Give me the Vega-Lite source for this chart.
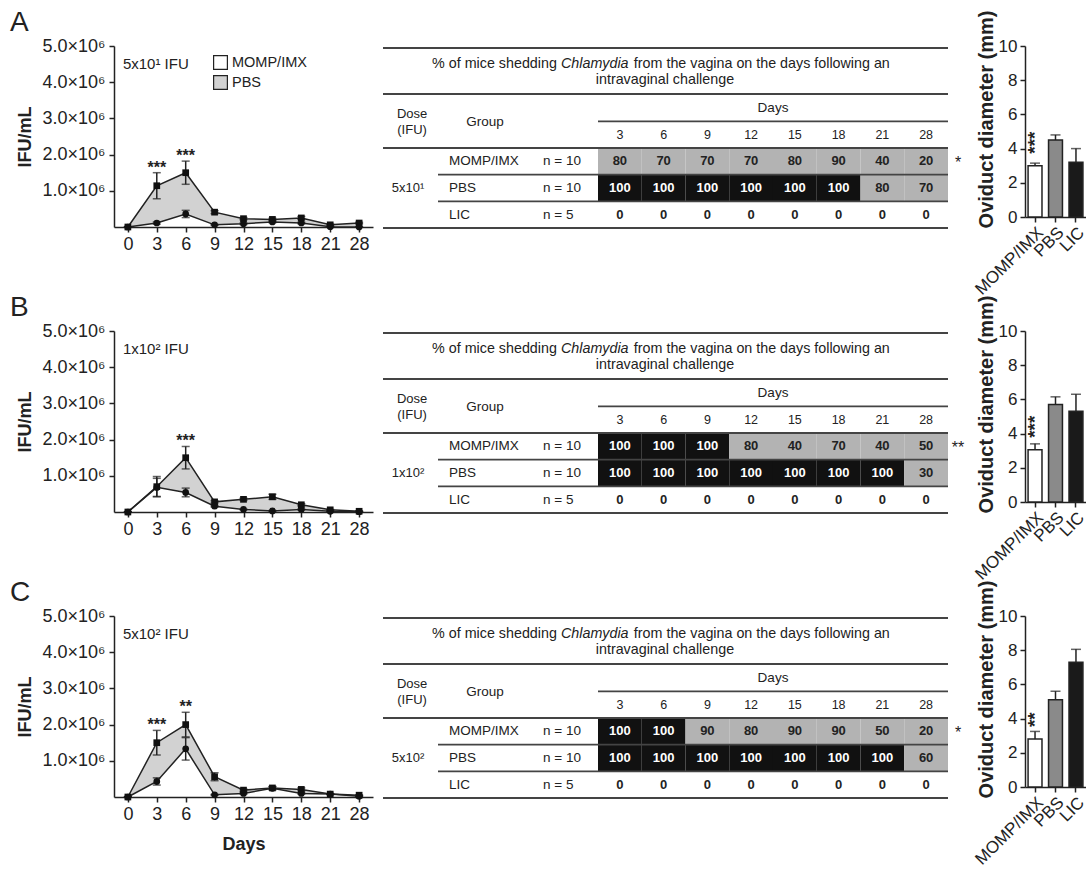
{
"$schema":"https://vega.github.io/schema/vega-lite/v6.json",
"padding":{"left":10,"top":9,"right":0,"bottom":0},
"config":{"font":"Liberation Sans","view":{"stroke":null},"axis":{"domainColor":"#222","tickColor":"#222","labelColor":"#222","titleColor":"#222","grid":false,"domainWidth":1.5,"tickWidth":1.5},"text":{"color":"#222"},"title":{"color":"#222"}},
"datasets":{
"lines":[
{"panel":"A","series":"PBS","day":0,"v":0,"err":0},{"panel":"A","series":"PBS","day":3,"v":1140000,"err":360000},{"panel":"A","series":"PBS","day":6,"v":1500000,"err":320000},{"panel":"A","series":"PBS","day":9,"v":410000,"err":40000},{"panel":"A","series":"PBS","day":12,"v":230000,"err":30000},{"panel":"A","series":"PBS","day":15,"v":210000,"err":30000},{"panel":"A","series":"PBS","day":18,"v":250000,"err":40000},{"panel":"A","series":"PBS","day":21,"v":60000,"err":20000},{"panel":"A","series":"PBS","day":28,"v":110000,"err":20000},
{"panel":"A","series":"MOMP/IMX","day":0,"v":0,"err":0},{"panel":"A","series":"MOMP/IMX","day":3,"v":110000,"err":30000},{"panel":"A","series":"MOMP/IMX","day":6,"v":360000,"err":100000},{"panel":"A","series":"MOMP/IMX","day":9,"v":60000,"err":10000},{"panel":"A","series":"MOMP/IMX","day":12,"v":90000,"err":20000},{"panel":"A","series":"MOMP/IMX","day":15,"v":140000,"err":20000},{"panel":"A","series":"MOMP/IMX","day":18,"v":110000,"err":20000},{"panel":"A","series":"MOMP/IMX","day":21,"v":10000,"err":0},{"panel":"A","series":"MOMP/IMX","day":28,"v":0,"err":0},
{"panel":"B","series":"PBS","day":0,"v":0,"err":0},{"panel":"B","series":"PBS","day":3,"v":700000,"err":280000},{"panel":"B","series":"PBS","day":6,"v":1500000,"err":310000},{"panel":"B","series":"PBS","day":9,"v":280000,"err":30000},{"panel":"B","series":"PBS","day":12,"v":350000,"err":30000},{"panel":"B","series":"PBS","day":15,"v":420000,"err":70000},{"panel":"B","series":"PBS","day":18,"v":200000,"err":30000},{"panel":"B","series":"PBS","day":21,"v":60000,"err":10000},{"panel":"B","series":"PBS","day":28,"v":20000,"err":0},
{"panel":"B","series":"MOMP/IMX","day":0,"v":0,"err":0},{"panel":"B","series":"MOMP/IMX","day":3,"v":680000,"err":250000},{"panel":"B","series":"MOMP/IMX","day":6,"v":540000,"err":120000},{"panel":"B","series":"MOMP/IMX","day":9,"v":160000,"err":20000},{"panel":"B","series":"MOMP/IMX","day":12,"v":70000,"err":10000},{"panel":"B","series":"MOMP/IMX","day":15,"v":30000,"err":10000},{"panel":"B","series":"MOMP/IMX","day":18,"v":70000,"err":10000},{"panel":"B","series":"MOMP/IMX","day":21,"v":20000,"err":0},{"panel":"B","series":"MOMP/IMX","day":28,"v":10000,"err":0},
{"panel":"C","series":"PBS","day":0,"v":0,"err":0},{"panel":"C","series":"PBS","day":3,"v":1500000,"err":340000},{"panel":"C","series":"PBS","day":6,"v":2000000,"err":340000},{"panel":"C","series":"PBS","day":9,"v":560000,"err":110000},{"panel":"C","series":"PBS","day":12,"v":190000,"err":30000},{"panel":"C","series":"PBS","day":15,"v":250000,"err":40000},{"panel":"C","series":"PBS","day":18,"v":210000,"err":40000},{"panel":"C","series":"PBS","day":21,"v":80000,"err":10000},{"panel":"C","series":"PBS","day":28,"v":50000,"err":10000},
{"panel":"C","series":"MOMP/IMX","day":0,"v":0,"err":0},{"panel":"C","series":"MOMP/IMX","day":3,"v":430000,"err":100000},{"panel":"C","series":"MOMP/IMX","day":6,"v":1330000,"err":310000},{"panel":"C","series":"MOMP/IMX","day":9,"v":60000,"err":10000},{"panel":"C","series":"MOMP/IMX","day":12,"v":100000,"err":20000},{"panel":"C","series":"MOMP/IMX","day":15,"v":240000,"err":40000},{"panel":"C","series":"MOMP/IMX","day":18,"v":100000,"err":20000},{"panel":"C","series":"MOMP/IMX","day":21,"v":80000,"err":10000},{"panel":"C","series":"MOMP/IMX","day":28,"v":20000,"err":10000}
],
"sigLine":[{"panel":"A","day":3,"sig":"***","top":1500000},{"panel":"A","day":6,"sig":"***","top":1820000},{"panel":"B","day":6,"sig":"***","top":1810000},{"panel":"C","day":3,"sig":"***","top":1840000},{"panel":"C","day":6,"sig":"**","top":2340000}],
"panels":[{"panel":"A","dose":"5x10¹","sig":"*"},{"panel":"B","dose":"1x10²","sig":"**"},{"panel":"C","dose":"5x10²","sig":"*"}],
"bars":[
{"panel":"A","group":"MOMP/IMX","v":3.0,"err":0.15,"sig":"***"},{"panel":"A","group":"PBS","v":4.5,"err":0.3,"sig":""},{"panel":"A","group":"LIC","v":3.2,"err":0.8,"sig":""},
{"panel":"B","group":"MOMP/IMX","v":3.05,"err":0.35,"sig":"***"},{"panel":"B","group":"PBS","v":5.7,"err":0.45,"sig":""},{"panel":"B","group":"LIC","v":5.3,"err":1.0,"sig":""},
{"panel":"C","group":"MOMP/IMX","v":2.8,"err":0.45,"sig":"**"},{"panel":"C","group":"PBS","v":5.1,"err":0.5,"sig":""},{"panel":"C","group":"LIC","v":7.3,"err":0.75,"sig":""}
],
"cells":[
{"panel":"A","group":"MOMP/IMX","day":3,"pct":80},{"panel":"A","group":"MOMP/IMX","day":6,"pct":70},{"panel":"A","group":"MOMP/IMX","day":9,"pct":70},{"panel":"A","group":"MOMP/IMX","day":12,"pct":70},{"panel":"A","group":"MOMP/IMX","day":15,"pct":80},{"panel":"A","group":"MOMP/IMX","day":18,"pct":90},{"panel":"A","group":"MOMP/IMX","day":21,"pct":40},{"panel":"A","group":"MOMP/IMX","day":28,"pct":20},
{"panel":"A","group":"PBS","day":3,"pct":100},{"panel":"A","group":"PBS","day":6,"pct":100},{"panel":"A","group":"PBS","day":9,"pct":100},{"panel":"A","group":"PBS","day":12,"pct":100},{"panel":"A","group":"PBS","day":15,"pct":100},{"panel":"A","group":"PBS","day":18,"pct":100},{"panel":"A","group":"PBS","day":21,"pct":80},{"panel":"A","group":"PBS","day":28,"pct":70},
{"panel":"A","group":"LIC","day":3,"pct":0},{"panel":"A","group":"LIC","day":6,"pct":0},{"panel":"A","group":"LIC","day":9,"pct":0},{"panel":"A","group":"LIC","day":12,"pct":0},{"panel":"A","group":"LIC","day":15,"pct":0},{"panel":"A","group":"LIC","day":18,"pct":0},{"panel":"A","group":"LIC","day":21,"pct":0},{"panel":"A","group":"LIC","day":28,"pct":0},
{"panel":"B","group":"MOMP/IMX","day":3,"pct":100},{"panel":"B","group":"MOMP/IMX","day":6,"pct":100},{"panel":"B","group":"MOMP/IMX","day":9,"pct":100},{"panel":"B","group":"MOMP/IMX","day":12,"pct":80},{"panel":"B","group":"MOMP/IMX","day":15,"pct":40},{"panel":"B","group":"MOMP/IMX","day":18,"pct":70},{"panel":"B","group":"MOMP/IMX","day":21,"pct":40},{"panel":"B","group":"MOMP/IMX","day":28,"pct":50},
{"panel":"B","group":"PBS","day":3,"pct":100},{"panel":"B","group":"PBS","day":6,"pct":100},{"panel":"B","group":"PBS","day":9,"pct":100},{"panel":"B","group":"PBS","day":12,"pct":100},{"panel":"B","group":"PBS","day":15,"pct":100},{"panel":"B","group":"PBS","day":18,"pct":100},{"panel":"B","group":"PBS","day":21,"pct":100},{"panel":"B","group":"PBS","day":28,"pct":30},
{"panel":"B","group":"LIC","day":3,"pct":0},{"panel":"B","group":"LIC","day":6,"pct":0},{"panel":"B","group":"LIC","day":9,"pct":0},{"panel":"B","group":"LIC","day":12,"pct":0},{"panel":"B","group":"LIC","day":15,"pct":0},{"panel":"B","group":"LIC","day":18,"pct":0},{"panel":"B","group":"LIC","day":21,"pct":0},{"panel":"B","group":"LIC","day":28,"pct":0},
{"panel":"C","group":"MOMP/IMX","day":3,"pct":100},{"panel":"C","group":"MOMP/IMX","day":6,"pct":100},{"panel":"C","group":"MOMP/IMX","day":9,"pct":90},{"panel":"C","group":"MOMP/IMX","day":12,"pct":80},{"panel":"C","group":"MOMP/IMX","day":15,"pct":90},{"panel":"C","group":"MOMP/IMX","day":18,"pct":90},{"panel":"C","group":"MOMP/IMX","day":21,"pct":50},{"panel":"C","group":"MOMP/IMX","day":28,"pct":20},
{"panel":"C","group":"PBS","day":3,"pct":100},{"panel":"C","group":"PBS","day":6,"pct":100},{"panel":"C","group":"PBS","day":9,"pct":100},{"panel":"C","group":"PBS","day":12,"pct":100},{"panel":"C","group":"PBS","day":15,"pct":100},{"panel":"C","group":"PBS","day":18,"pct":100},{"panel":"C","group":"PBS","day":21,"pct":100},{"panel":"C","group":"PBS","day":28,"pct":60},
{"panel":"C","group":"LIC","day":3,"pct":0},{"panel":"C","group":"LIC","day":6,"pct":0},{"panel":"C","group":"LIC","day":9,"pct":0},{"panel":"C","group":"LIC","day":12,"pct":0},{"panel":"C","group":"LIC","day":15,"pct":0},{"panel":"C","group":"LIC","day":18,"pct":0},{"panel":"C","group":"LIC","day":21,"pct":0},{"panel":"C","group":"LIC","day":28,"pct":0}
],
"dayCols":[{"day":3,"c0":0,"c1":1,"cm":0.5},{"day":6,"c0":1,"c1":2,"cm":1.5},{"day":9,"c0":2,"c1":3,"cm":2.5},{"day":12,"c0":3,"c1":4,"cm":3.5},{"day":15,"c0":4,"c1":5,"cm":4.5},{"day":18,"c0":5,"c1":6,"cm":5.5},{"day":21,"c0":6,"c1":7,"cm":6.5},{"day":28,"c0":7,"c1":8,"cm":7.5}],
"groupRows":[{"group":"MOMP/IMX","n":"n = 10","r0":3.75,"r1":4.75,"rm":4.25},{"group":"PBS","n":"n = 10","r0":4.75,"r1":5.75,"rm":5.25},{"group":"LIC","n":"n = 5","r0":5.75,"r1":6.75,"rm":6.25}],
"tRules":[{"y":0,"x1":-4.914,"x2":8},{"y":1.725,"x1":-4.914,"x2":8},{"y":2.75,"x1":0,"x2":8},{"y":3.75,"x1":-4.914,"x2":8},{"y":4.75,"x1":-3.657,"x2":8},{"y":5.75,"x1":-3.657,"x2":8},{"y":6.75,"x1":-4.914,"x2":8}]
},
"spacing":-4,
"vconcat":[
{"spacing":2,"hconcat":[
 {"width":259,"height":181,
  "title":{"text":"A","anchor":"start","frame":"group","dx":-104,"fontSize":28,"fontWeight":"normal","offset":0},
  "layer":[
   {"data":{"name":"lines"},"transform":[{"filter":"datum.panel==='A'"},{"pivot":"series","value":"v","groupby":["day"]}],
    "mark":{"type":"area","color":"#d2d2d2","opacity":1},
    "encoding":{"x":{"field":"day","type":"ordinal","scale":{"type":"point","domain":[0,3,6,9,12,15,18,21,28],"padding":0.48},"axis":{"title":null,"labelFontSize":18,"labelAngle":0,"tickSize":5,"labelPadding":3}},
     "y":{"field":"PBS","type":"quantitative","scale":{"domain":[0,5000000]},"title":"IFU/mL","axis":{"values":[1000000,2000000,3000000,4000000,5000000],"labelExpr":"format(datum.value/1000000,'.1f')+'×10⁶'","labelFontSize":18,"titleFontSize":18,"titleFontWeight":"bold","tickSize":5,"labelPadding":4,"titlePadding":8}},
     "y2":{"field":"MOMP/IMX"}}},
   {"data":{"name":"lines"},"transform":[{"filter":"datum.panel==='A'"}],"mark":{"type":"line","color":"#222","strokeWidth":1.5},
    "encoding":{"x":{"field":"day","type":"ordinal"},"y":{"field":"v","type":"quantitative","title":"IFU/mL"},"detail":{"field":"series"}}},
   {"data":{"name":"lines"},"transform":[{"filter":"datum.panel==='A'"}],"mark":{"type":"errorbar","color":"#222","thickness":1.5,"ticks":{"size":8,"thickness":1.5}},
    "encoding":{"x":{"field":"day","type":"ordinal"},"y":{"field":"v","type":"quantitative","title":"IFU/mL"},"yError":{"field":"err"}}},
   {"data":{"name":"lines"},"transform":[{"filter":"datum.panel==='A'"}],"mark":{"type":"point","filled":true,"color":"#111","size":45,"opacity":1},
    "encoding":{"x":{"field":"day","type":"ordinal"},"y":{"field":"v","type":"quantitative","title":"IFU/mL"},"shape":{"field":"series","type":"nominal","scale":{"domain":["MOMP/IMX","PBS"],"range":["circle","square"]},"legend":null}}},
   {"data":{"name":"sigLine"},"transform":[{"filter":"datum.panel==='A'"}],"mark":{"type":"text","fontSize":16,"fontWeight":"bold","baseline":"alphabetic"},
    "encoding":{"x":{"field":"day","type":"ordinal"},"y":{"field":"top","type":"quantitative","title":"IFU/mL"},"text":{"field":"sig"}}},
   {"data":{"name":"panels"},"transform":[{"filter":"datum.panel==='A'"}],"mark":{"type":"text","align":"left","baseline":"middle","fontSize":15,"dx":-5,"text":{"expr":"datum.dose + ' IFU'"}},
    "encoding":{"x":{"datum":0,"type":"ordinal"},"y":{"datum":4500000,"type":"quantitative","title":"IFU/mL"}}},
   {"data":{"name":"lines"},"transform":[{"filter":"datum.panel==='A'"}],"mark":{"type":"square","filled":true,"opacity":0},
    "encoding":{"x":{"field":"day","type":"ordinal"},"y":{"field":"v","type":"quantitative","title":"IFU/mL"},
     "fill":{"field":"series","type":"nominal","scale":{"domain":["MOMP/IMX","PBS"],"range":["white","#d2d2d2"]},"legend":{"title":null,"orient":"none","legendX":99,"legendY":9,"symbolType":"square","symbolSize":190,"symbolStrokeColor":"#222","symbolStrokeWidth":1.2,"symbolOpacity":1,"labelFontSize":14.5,"labelColor":"#222","rowPadding":1,"padding":0,"labelOffset":4}}}}
  ]},
 {"width":594,"height":180,
  "data":{"name":"panels"},"transform":[{"filter":"datum.panel==='A'"}],
  "layer":[
   {"data":{"name":"cells"},"transform":[{"filter":"datum.panel==='A'"},{"lookup":"day","from":{"data":{"name":"dayCols"},"key":"day","fields":["c0","c1","cm"]}},{"lookup":"group","from":{"data":{"name":"groupRows"},"key":"group","fields":["r0","r1","rm"]}}],
    "mark":{"type":"rect"},
    "encoding":{"x":{"field":"c0","type":"quantitative","scale":{"domain":[-5.097,8.48],"nice":false,"zero":false},"axis":null},"x2":{"field":"c1"},
     "y":{"field":"r0","type":"quantitative","scale":{"domain":[-0.075,6.675],"reverse":true,"nice":false,"zero":false},"axis":null},"y2":{"field":"r1"},
     "fill":{"field":"pct","type":"quantitative","scale":{"type":"threshold","domain":[1,100],"range":["white","#b3b3b3","#111111"]},"legend":null}}},
   {"data":{"name":"cells"},"transform":[{"filter":"datum.panel==='A'"},{"lookup":"day","from":{"data":{"name":"dayCols"},"key":"day","fields":["c0","c1","cm"]}},{"lookup":"group","from":{"data":{"name":"groupRows"},"key":"group","fields":["r0","r1","rm"]}}],
    "mark":{"type":"text","fontWeight":"bold","fontSize":13},
    "encoding":{"x":{"field":"cm","type":"quantitative","axis":null},"y":{"field":"rm","type":"quantitative","axis":null},"text":{"field":"pct","type":"quantitative"},
     "color":{"field":"pct","type":"quantitative","scale":{"type":"threshold","domain":[100],"range":["#222222","#ffffff"]},"legend":null}}},
   {"data":{"name":"tRules"},"mark":{"type":"rule","color":"#444","strokeWidth":1.8},
    "encoding":{"x":{"field":"x1","type":"quantitative","axis":null},"x2":{"field":"x2"},"y":{"field":"y","type":"quantitative","axis":null}}},
   {"data":{"name":"groupRows"},"mark":{"type":"text","align":"left","fontSize":13.5},
    "encoding":{"x":{"datum":-3.406,"type":"quantitative","axis":null},"y":{"field":"rm","type":"quantitative","axis":null},"text":{"field":"group"}}},
   {"data":{"name":"groupRows"},"mark":{"type":"text","align":"left","fontSize":13.5},
    "encoding":{"x":{"datum":-1.257,"type":"quantitative","axis":null},"y":{"field":"rm","type":"quantitative","axis":null},"text":{"field":"n"}}},
   {"data":{"name":"dayCols"},"mark":{"type":"text","fontSize":12.5},
    "encoding":{"x":{"field":"cm","type":"quantitative","axis":null},"y":{"datum":3.28,"type":"quantitative","axis":null},"text":{"field":"day"}}},
   {"mark":{"type":"text","align":"right","fontSize":14.3,"text":"% of mice shedding"},"encoding":{"x":{"datum":-0.94,"type":"quantitative","axis":null},"y":{"datum":0.61,"type":"quantitative","axis":null}}},
   {"mark":{"type":"text","align":"left","fontSize":14.3,"fontStyle":"italic","text":"Chlamydia"},"encoding":{"x":{"datum":-0.846,"type":"quantitative","axis":null},"y":{"datum":0.61,"type":"quantitative","axis":null}}},
   {"mark":{"type":"text","align":"left","fontSize":14.3,"text":"from the vagina on the days following an"},"encoding":{"x":{"datum":0.82,"type":"quantitative","axis":null},"y":{"datum":0.61,"type":"quantitative","axis":null}}},
   {"mark":{"type":"text","fontSize":14.3,"text":"intravaginal challenge"},"encoding":{"x":{"datum":1.53,"type":"quantitative","axis":null},"y":{"datum":1.21,"type":"quantitative","axis":null}}},
   {"mark":{"type":"text","fontSize":13.5,"text":"Days"},"encoding":{"x":{"datum":4,"type":"quantitative","axis":null},"y":{"datum":2.25,"type":"quantitative","axis":null}}},
   {"mark":{"type":"text","fontSize":13,"text":"Dose"},"encoding":{"x":{"datum":-4.25,"type":"quantitative","axis":null},"y":{"datum":2.46,"type":"quantitative","axis":null}}},
   {"mark":{"type":"text","fontSize":13,"text":"(IFU)"},"encoding":{"x":{"datum":-4.25,"type":"quantitative","axis":null},"y":{"datum":3.07,"type":"quantitative","axis":null}}},
   {"mark":{"type":"text","fontSize":13.5,"text":"Group"},"encoding":{"x":{"datum":-2.58,"type":"quantitative","axis":null},"y":{"datum":2.78,"type":"quantitative","axis":null}}},
   {"mark":{"type":"text","fontSize":13},"encoding":{"x":{"datum":-4.34,"type":"quantitative","axis":null},"y":{"datum":5.25,"type":"quantitative","axis":null},"text":{"field":"dose"}}},
   {"mark":{"type":"text","fontSize":16,"baseline":"middle"},"encoding":{"x":{"datum":8.23,"type":"quantitative","axis":null},"y":{"datum":4.3,"type":"quantitative","axis":null},"text":{"field":"sig"}}}
  ]},
 {"width":61,"height":171,
  "data":{"name":"bars"},"transform":[{"filter":"datum.panel==='A'"}],
  "encoding":{"x":{"field":"group","type":"nominal","scale":{"domain":["MOMP/IMX","PBS","LIC"],"paddingInner":0.32,"paddingOuter":0.15},"axis":{"title":null,"labelAngle":-45,"labelFontSize":17,"tickSize":5,"labelPadding":2}},
   "y":{"field":"v","type":"quantitative","scale":{"domain":[0,10]},"title":"Oviduct diameter (mm)","axis":{"values":[0,2,4,6,8,10],"labelFontSize":17,"titleFontSize":20,"titleFontWeight":"bold","titlePadding":2,"titleY":73,"tickSize":5,"labelPadding":3}}},
  "layer":[
   {"mark":{"type":"errorbar","color":"#222","thickness":1.5,"ticks":{"size":10,"thickness":1.5}},"encoding":{"yError":{"field":"err"}}},
   {"mark":{"type":"bar","stroke":"#222","strokeWidth":1.5},"encoding":{"fill":{"field":"group","type":"nominal","scale":{"domain":["MOMP/IMX","PBS","LIC"],"range":["#ffffff","#8a8a8a","#1a1a1a"]},"legend":null}}},
   {"mark":{"type":"text","angle":270,"align":"left","baseline":"middle","dx":12,"fontSize":19,"fontWeight":"bold"},"encoding":{"text":{"field":"sig"}}}
  ]}
]},
{"spacing":2,"hconcat":[
 {"width":259,"height":181,
  "title":{"text":"B","anchor":"start","frame":"group","dx":-104,"fontSize":28,"fontWeight":"normal","offset":0},
  "layer":[
   {"data":{"name":"lines"},"transform":[{"filter":"datum.panel==='B'"},{"pivot":"series","value":"v","groupby":["day"]}],
    "mark":{"type":"area","color":"#d2d2d2","opacity":1},
    "encoding":{"x":{"field":"day","type":"ordinal","scale":{"type":"point","domain":[0,3,6,9,12,15,18,21,28],"padding":0.48},"axis":{"title":null,"labelFontSize":18,"labelAngle":0,"tickSize":5,"labelPadding":3}},
     "y":{"field":"PBS","type":"quantitative","scale":{"domain":[0,5000000]},"title":"IFU/mL","axis":{"values":[1000000,2000000,3000000,4000000,5000000],"labelExpr":"format(datum.value/1000000,'.1f')+'×10⁶'","labelFontSize":18,"titleFontSize":18,"titleFontWeight":"bold","tickSize":5,"labelPadding":4,"titlePadding":8}},
     "y2":{"field":"MOMP/IMX"}}},
   {"data":{"name":"lines"},"transform":[{"filter":"datum.panel==='B'"}],"mark":{"type":"line","color":"#222","strokeWidth":1.5},
    "encoding":{"x":{"field":"day","type":"ordinal"},"y":{"field":"v","type":"quantitative","title":"IFU/mL"},"detail":{"field":"series"}}},
   {"data":{"name":"lines"},"transform":[{"filter":"datum.panel==='B'"}],"mark":{"type":"errorbar","color":"#222","thickness":1.5,"ticks":{"size":8,"thickness":1.5}},
    "encoding":{"x":{"field":"day","type":"ordinal"},"y":{"field":"v","type":"quantitative","title":"IFU/mL"},"yError":{"field":"err"}}},
   {"data":{"name":"lines"},"transform":[{"filter":"datum.panel==='B'"}],"mark":{"type":"point","filled":true,"color":"#111","size":45,"opacity":1},
    "encoding":{"x":{"field":"day","type":"ordinal"},"y":{"field":"v","type":"quantitative","title":"IFU/mL"},"shape":{"field":"series","type":"nominal","scale":{"domain":["MOMP/IMX","PBS"],"range":["circle","circle"]},"legend":null}}},
   {"data":{"name":"sigLine"},"transform":[{"filter":"datum.panel==='B'"}],"mark":{"type":"text","fontSize":16,"fontWeight":"bold","baseline":"alphabetic"},
    "encoding":{"x":{"field":"day","type":"ordinal"},"y":{"field":"top","type":"quantitative","title":"IFU/mL"},"text":{"field":"sig"}}},
   {"data":{"name":"panels"},"transform":[{"filter":"datum.panel==='B'"}],"mark":{"type":"text","align":"left","baseline":"middle","fontSize":15,"dx":-5,"text":{"expr":"datum.dose + ' IFU'"}},
    "encoding":{"x":{"datum":0,"type":"ordinal"},"y":{"datum":4500000,"type":"quantitative","title":"IFU/mL"}}}
  ]},
 {"width":594,"height":180,
  "data":{"name":"panels"},"transform":[{"filter":"datum.panel==='B'"}],
  "layer":[
   {"data":{"name":"cells"},"transform":[{"filter":"datum.panel==='B'"},{"lookup":"day","from":{"data":{"name":"dayCols"},"key":"day","fields":["c0","c1","cm"]}},{"lookup":"group","from":{"data":{"name":"groupRows"},"key":"group","fields":["r0","r1","rm"]}}],
    "mark":{"type":"rect"},
    "encoding":{"x":{"field":"c0","type":"quantitative","scale":{"domain":[-5.097,8.48],"nice":false,"zero":false},"axis":null},"x2":{"field":"c1"},
     "y":{"field":"r0","type":"quantitative","scale":{"domain":[-0.075,6.675],"reverse":true,"nice":false,"zero":false},"axis":null},"y2":{"field":"r1"},
     "fill":{"field":"pct","type":"quantitative","scale":{"type":"threshold","domain":[1,100],"range":["white","#b3b3b3","#111111"]},"legend":null}}},
   {"data":{"name":"cells"},"transform":[{"filter":"datum.panel==='B'"},{"lookup":"day","from":{"data":{"name":"dayCols"},"key":"day","fields":["c0","c1","cm"]}},{"lookup":"group","from":{"data":{"name":"groupRows"},"key":"group","fields":["r0","r1","rm"]}}],
    "mark":{"type":"text","fontWeight":"bold","fontSize":13},
    "encoding":{"x":{"field":"cm","type":"quantitative","axis":null},"y":{"field":"rm","type":"quantitative","axis":null},"text":{"field":"pct","type":"quantitative"},
     "color":{"field":"pct","type":"quantitative","scale":{"type":"threshold","domain":[100],"range":["#222222","#ffffff"]},"legend":null}}},
   {"data":{"name":"tRules"},"mark":{"type":"rule","color":"#444","strokeWidth":1.8},
    "encoding":{"x":{"field":"x1","type":"quantitative","axis":null},"x2":{"field":"x2"},"y":{"field":"y","type":"quantitative","axis":null}}},
   {"data":{"name":"groupRows"},"mark":{"type":"text","align":"left","fontSize":13.5},
    "encoding":{"x":{"datum":-3.406,"type":"quantitative","axis":null},"y":{"field":"rm","type":"quantitative","axis":null},"text":{"field":"group"}}},
   {"data":{"name":"groupRows"},"mark":{"type":"text","align":"left","fontSize":13.5},
    "encoding":{"x":{"datum":-1.257,"type":"quantitative","axis":null},"y":{"field":"rm","type":"quantitative","axis":null},"text":{"field":"n"}}},
   {"data":{"name":"dayCols"},"mark":{"type":"text","fontSize":12.5},
    "encoding":{"x":{"field":"cm","type":"quantitative","axis":null},"y":{"datum":3.28,"type":"quantitative","axis":null},"text":{"field":"day"}}},
   {"mark":{"type":"text","align":"right","fontSize":14.3,"text":"% of mice shedding"},"encoding":{"x":{"datum":-0.94,"type":"quantitative","axis":null},"y":{"datum":0.61,"type":"quantitative","axis":null}}},
   {"mark":{"type":"text","align":"left","fontSize":14.3,"fontStyle":"italic","text":"Chlamydia"},"encoding":{"x":{"datum":-0.846,"type":"quantitative","axis":null},"y":{"datum":0.61,"type":"quantitative","axis":null}}},
   {"mark":{"type":"text","align":"left","fontSize":14.3,"text":"from the vagina on the days following an"},"encoding":{"x":{"datum":0.82,"type":"quantitative","axis":null},"y":{"datum":0.61,"type":"quantitative","axis":null}}},
   {"mark":{"type":"text","fontSize":14.3,"text":"intravaginal challenge"},"encoding":{"x":{"datum":1.53,"type":"quantitative","axis":null},"y":{"datum":1.21,"type":"quantitative","axis":null}}},
   {"mark":{"type":"text","fontSize":13.5,"text":"Days"},"encoding":{"x":{"datum":4,"type":"quantitative","axis":null},"y":{"datum":2.25,"type":"quantitative","axis":null}}},
   {"mark":{"type":"text","fontSize":13,"text":"Dose"},"encoding":{"x":{"datum":-4.25,"type":"quantitative","axis":null},"y":{"datum":2.46,"type":"quantitative","axis":null}}},
   {"mark":{"type":"text","fontSize":13,"text":"(IFU)"},"encoding":{"x":{"datum":-4.25,"type":"quantitative","axis":null},"y":{"datum":3.07,"type":"quantitative","axis":null}}},
   {"mark":{"type":"text","fontSize":13.5,"text":"Group"},"encoding":{"x":{"datum":-2.58,"type":"quantitative","axis":null},"y":{"datum":2.78,"type":"quantitative","axis":null}}},
   {"mark":{"type":"text","fontSize":13},"encoding":{"x":{"datum":-4.34,"type":"quantitative","axis":null},"y":{"datum":5.25,"type":"quantitative","axis":null},"text":{"field":"dose"}}},
   {"mark":{"type":"text","fontSize":16,"baseline":"middle"},"encoding":{"x":{"datum":8.23,"type":"quantitative","axis":null},"y":{"datum":4.3,"type":"quantitative","axis":null},"text":{"field":"sig"}}}
  ]},
 {"width":61,"height":171,
  "data":{"name":"bars"},"transform":[{"filter":"datum.panel==='B'"}],
  "encoding":{"x":{"field":"group","type":"nominal","scale":{"domain":["MOMP/IMX","PBS","LIC"],"paddingInner":0.32,"paddingOuter":0.15},"axis":{"title":null,"labelAngle":-45,"labelFontSize":17,"tickSize":5,"labelPadding":2}},
   "y":{"field":"v","type":"quantitative","scale":{"domain":[0,10]},"title":"Oviduct diameter (mm)","axis":{"values":[0,2,4,6,8,10],"labelFontSize":17,"titleFontSize":20,"titleFontWeight":"bold","titlePadding":2,"titleY":73,"tickSize":5,"labelPadding":3}}},
  "layer":[
   {"mark":{"type":"errorbar","color":"#222","thickness":1.5,"ticks":{"size":10,"thickness":1.5}},"encoding":{"yError":{"field":"err"}}},
   {"mark":{"type":"bar","stroke":"#222","strokeWidth":1.5},"encoding":{"fill":{"field":"group","type":"nominal","scale":{"domain":["MOMP/IMX","PBS","LIC"],"range":["#ffffff","#8a8a8a","#1a1a1a"]},"legend":null}}},
   {"mark":{"type":"text","angle":270,"align":"left","baseline":"middle","dx":12,"fontSize":19,"fontWeight":"bold"},"encoding":{"text":{"field":"sig"}}}
  ]}
]},
{"spacing":2,"hconcat":[
 {"width":259,"height":181,
  "title":{"text":"C","anchor":"start","frame":"group","dx":-104,"fontSize":28,"fontWeight":"normal","offset":0},
  "layer":[
   {"data":{"name":"lines"},"transform":[{"filter":"datum.panel==='C'"},{"pivot":"series","value":"v","groupby":["day"]}],
    "mark":{"type":"area","color":"#d2d2d2","opacity":1},
    "encoding":{"x":{"field":"day","type":"ordinal","scale":{"type":"point","domain":[0,3,6,9,12,15,18,21,28],"padding":0.48},"title":"Days","axis":{"labelFontSize":18,"labelAngle":0,"tickSize":5,"labelPadding":3,"titleFontSize":18,"titleFontWeight":"bold","titlePadding":12}},
     "y":{"field":"PBS","type":"quantitative","scale":{"domain":[0,5000000]},"title":"IFU/mL","axis":{"values":[1000000,2000000,3000000,4000000,5000000],"labelExpr":"format(datum.value/1000000,'.1f')+'×10⁶'","labelFontSize":18,"titleFontSize":18,"titleFontWeight":"bold","tickSize":5,"labelPadding":4,"titlePadding":8}},
     "y2":{"field":"MOMP/IMX"}}},
   {"data":{"name":"lines"},"transform":[{"filter":"datum.panel==='C'"}],"mark":{"type":"line","color":"#222","strokeWidth":1.5},
    "encoding":{"x":{"field":"day","type":"ordinal","title":"Days"},"y":{"field":"v","type":"quantitative","title":"IFU/mL"},"detail":{"field":"series"}}},
   {"data":{"name":"lines"},"transform":[{"filter":"datum.panel==='C'"}],"mark":{"type":"errorbar","color":"#222","thickness":1.5,"ticks":{"size":8,"thickness":1.5}},
    "encoding":{"x":{"field":"day","type":"ordinal","title":"Days"},"y":{"field":"v","type":"quantitative","title":"IFU/mL"},"yError":{"field":"err"}}},
   {"data":{"name":"lines"},"transform":[{"filter":"datum.panel==='C'"}],"mark":{"type":"point","filled":true,"color":"#111","size":45,"opacity":1},
    "encoding":{"x":{"field":"day","type":"ordinal","title":"Days"},"y":{"field":"v","type":"quantitative","title":"IFU/mL"},"shape":{"field":"series","type":"nominal","scale":{"domain":["MOMP/IMX","PBS"],"range":["circle","square"]},"legend":null}}},
   {"data":{"name":"sigLine"},"transform":[{"filter":"datum.panel==='C'"}],"mark":{"type":"text","fontSize":16,"fontWeight":"bold","baseline":"alphabetic"},
    "encoding":{"x":{"field":"day","type":"ordinal","title":"Days"},"y":{"field":"top","type":"quantitative","title":"IFU/mL"},"text":{"field":"sig"}}},
   {"data":{"name":"panels"},"transform":[{"filter":"datum.panel==='C'"}],"mark":{"type":"text","align":"left","baseline":"middle","fontSize":15,"dx":-5,"text":{"expr":"datum.dose + ' IFU'"}},
    "encoding":{"x":{"datum":0,"type":"ordinal","title":"Days"},"y":{"datum":4500000,"type":"quantitative","title":"IFU/mL"}}}
  ]},
 {"width":594,"height":180,
  "data":{"name":"panels"},"transform":[{"filter":"datum.panel==='C'"}],
  "layer":[
   {"data":{"name":"cells"},"transform":[{"filter":"datum.panel==='C'"},{"lookup":"day","from":{"data":{"name":"dayCols"},"key":"day","fields":["c0","c1","cm"]}},{"lookup":"group","from":{"data":{"name":"groupRows"},"key":"group","fields":["r0","r1","rm"]}}],
    "mark":{"type":"rect"},
    "encoding":{"x":{"field":"c0","type":"quantitative","scale":{"domain":[-5.097,8.48],"nice":false,"zero":false},"axis":null},"x2":{"field":"c1"},
     "y":{"field":"r0","type":"quantitative","scale":{"domain":[-0.075,6.675],"reverse":true,"nice":false,"zero":false},"axis":null},"y2":{"field":"r1"},
     "fill":{"field":"pct","type":"quantitative","scale":{"type":"threshold","domain":[1,100],"range":["white","#b3b3b3","#111111"]},"legend":null}}},
   {"data":{"name":"cells"},"transform":[{"filter":"datum.panel==='C'"},{"lookup":"day","from":{"data":{"name":"dayCols"},"key":"day","fields":["c0","c1","cm"]}},{"lookup":"group","from":{"data":{"name":"groupRows"},"key":"group","fields":["r0","r1","rm"]}}],
    "mark":{"type":"text","fontWeight":"bold","fontSize":13},
    "encoding":{"x":{"field":"cm","type":"quantitative","axis":null},"y":{"field":"rm","type":"quantitative","axis":null},"text":{"field":"pct","type":"quantitative"},
     "color":{"field":"pct","type":"quantitative","scale":{"type":"threshold","domain":[100],"range":["#222222","#ffffff"]},"legend":null}}},
   {"data":{"name":"tRules"},"mark":{"type":"rule","color":"#444","strokeWidth":1.8},
    "encoding":{"x":{"field":"x1","type":"quantitative","axis":null},"x2":{"field":"x2"},"y":{"field":"y","type":"quantitative","axis":null}}},
   {"data":{"name":"groupRows"},"mark":{"type":"text","align":"left","fontSize":13.5},
    "encoding":{"x":{"datum":-3.406,"type":"quantitative","axis":null},"y":{"field":"rm","type":"quantitative","axis":null},"text":{"field":"group"}}},
   {"data":{"name":"groupRows"},"mark":{"type":"text","align":"left","fontSize":13.5},
    "encoding":{"x":{"datum":-1.257,"type":"quantitative","axis":null},"y":{"field":"rm","type":"quantitative","axis":null},"text":{"field":"n"}}},
   {"data":{"name":"dayCols"},"mark":{"type":"text","fontSize":12.5},
    "encoding":{"x":{"field":"cm","type":"quantitative","axis":null},"y":{"datum":3.28,"type":"quantitative","axis":null},"text":{"field":"day"}}},
   {"mark":{"type":"text","align":"right","fontSize":14.3,"text":"% of mice shedding"},"encoding":{"x":{"datum":-0.94,"type":"quantitative","axis":null},"y":{"datum":0.61,"type":"quantitative","axis":null}}},
   {"mark":{"type":"text","align":"left","fontSize":14.3,"fontStyle":"italic","text":"Chlamydia"},"encoding":{"x":{"datum":-0.846,"type":"quantitative","axis":null},"y":{"datum":0.61,"type":"quantitative","axis":null}}},
   {"mark":{"type":"text","align":"left","fontSize":14.3,"text":"from the vagina on the days following an"},"encoding":{"x":{"datum":0.82,"type":"quantitative","axis":null},"y":{"datum":0.61,"type":"quantitative","axis":null}}},
   {"mark":{"type":"text","fontSize":14.3,"text":"intravaginal challenge"},"encoding":{"x":{"datum":1.53,"type":"quantitative","axis":null},"y":{"datum":1.21,"type":"quantitative","axis":null}}},
   {"mark":{"type":"text","fontSize":13.5,"text":"Days"},"encoding":{"x":{"datum":4,"type":"quantitative","axis":null},"y":{"datum":2.25,"type":"quantitative","axis":null}}},
   {"mark":{"type":"text","fontSize":13,"text":"Dose"},"encoding":{"x":{"datum":-4.25,"type":"quantitative","axis":null},"y":{"datum":2.46,"type":"quantitative","axis":null}}},
   {"mark":{"type":"text","fontSize":13,"text":"(IFU)"},"encoding":{"x":{"datum":-4.25,"type":"quantitative","axis":null},"y":{"datum":3.07,"type":"quantitative","axis":null}}},
   {"mark":{"type":"text","fontSize":13.5,"text":"Group"},"encoding":{"x":{"datum":-2.58,"type":"quantitative","axis":null},"y":{"datum":2.78,"type":"quantitative","axis":null}}},
   {"mark":{"type":"text","fontSize":13},"encoding":{"x":{"datum":-4.34,"type":"quantitative","axis":null},"y":{"datum":5.25,"type":"quantitative","axis":null},"text":{"field":"dose"}}},
   {"mark":{"type":"text","fontSize":16,"baseline":"middle"},"encoding":{"x":{"datum":8.23,"type":"quantitative","axis":null},"y":{"datum":4.3,"type":"quantitative","axis":null},"text":{"field":"sig"}}}
  ]},
 {"width":61,"height":171,
  "data":{"name":"bars"},"transform":[{"filter":"datum.panel==='C'"}],
  "encoding":{"x":{"field":"group","type":"nominal","scale":{"domain":["MOMP/IMX","PBS","LIC"],"paddingInner":0.32,"paddingOuter":0.15},"axis":{"title":null,"labelAngle":-45,"labelFontSize":17,"tickSize":5,"labelPadding":2}},
   "y":{"field":"v","type":"quantitative","scale":{"domain":[0,10]},"title":"Oviduct diameter (mm)","axis":{"values":[0,2,4,6,8,10],"labelFontSize":17,"titleFontSize":20,"titleFontWeight":"bold","titlePadding":2,"titleY":73,"tickSize":5,"labelPadding":3}}},
  "layer":[
   {"mark":{"type":"errorbar","color":"#222","thickness":1.5,"ticks":{"size":10,"thickness":1.5}},"encoding":{"yError":{"field":"err"}}},
   {"mark":{"type":"bar","stroke":"#222","strokeWidth":1.5},"encoding":{"fill":{"field":"group","type":"nominal","scale":{"domain":["MOMP/IMX","PBS","LIC"],"range":["#ffffff","#8a8a8a","#1a1a1a"]},"legend":null}}},
   {"mark":{"type":"text","angle":270,"align":"left","baseline":"middle","dx":12,"fontSize":19,"fontWeight":"bold"},"encoding":{"text":{"field":"sig"}}}
  ]}
]}
]
}
